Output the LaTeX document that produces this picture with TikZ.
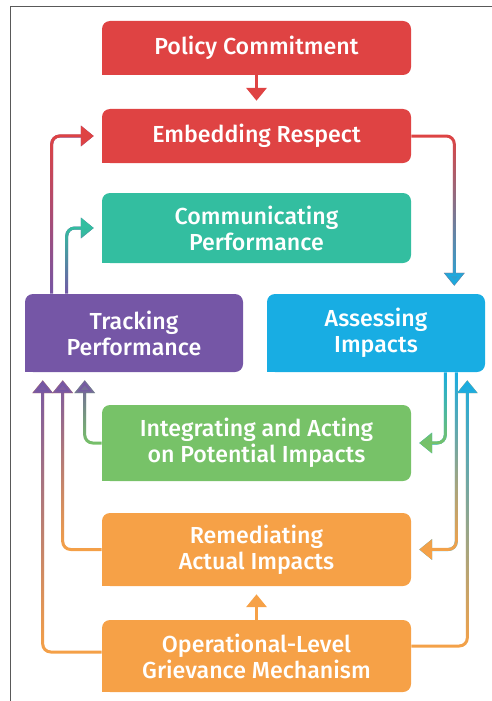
\documentclass[tikz,border=0pt]{standalone}
\usepackage{fontspec}
\setmainfont{Fira Sans}[UprightFont={* Medium}]
\usetikzlibrary{arrows.meta,fadings}
\definecolor{ecRed}{HTML}{DF4343}
\definecolor{ecTeal}{HTML}{33BEA0}
\definecolor{ecPurple}{HTML}{7556A6}
\definecolor{ecBlue}{HTML}{18ADE3}
\definecolor{ecGreen}{HTML}{77C268}
\definecolor{ecOrange}{HTML}{F6A147}
\begin{document}
\begin{tikzpicture}[
  box/.style={fill=#1, rounded corners=0.2cm, align=center, text=white, inner sep=2pt,
    font=\fontsize{16.5}{18.5}\selectfont},
  wide/.style={minimum width=7.725cm},
  half/.style={minimum width=5.45cm},
  arr/.style={-{Triangle[width=0.5cm,length=0.32cm]}, line width=0.075cm,
    rounded corners=0.2cm, shorten >=0.2cm},
  fadeup/.style 2 args={draw=#1, postaction={draw=#2, path fading=south}},
  fadedown/.style 2 args={draw=#1, postaction={draw=#2, path fading=north}}
]
\useasboundingbox (0,0) rectangle (12.3,-17.525);
\draw[gray!70!black, line width=0.025cm] (0.25,-17.525) -- (0.25,-0.175) -- (12.3,-0.175);

\node[box=ecRed,wide,minimum height=1.35cm] (policy) at (6.4125,-1.2) {Policy Commitment};
\node[box=ecRed,wide,minimum height=1.35cm] (embed) at (6.4125,-3.4) {Embedding Respect};
\node[box=ecTeal,wide,minimum height=1.75cm] (comm) at (6.4125,-5.7) {Communicating\\Performance};
\node[box=ecPurple,half,minimum height=1.95cm] (track) at (3.35,-8.325) {Tracking\\Performance};
\node[box=ecBlue,half,minimum height=1.95cm] (assess) at (9.4,-8.325) {Assessing\\Impacts};
\node[box=ecGreen,wide,minimum height=1.9cm] (integ) at (6.4125,-11.075) {Integrating and Acting\\on Potential Impacts};
\node[box=ecOrange,wide,minimum height=1.825cm] (remed) at (6.4125,-13.7375) {Remediating\\Actual Impacts};
\node[box=ecOrange,wide,minimum height=1.8cm] (oper) at (6.4125,-16.4) {Operational-Level\\Grievance Mechanism};
% square off the lower left corners
\foreach \n/\c in {policy/ecRed,embed/ecRed,comm/ecTeal,track/ecPurple,assess/ecBlue,
    integ/ecGreen,remed/ecOrange,oper/ecOrange}
  \fill[\c] (\n.south west) rectangle ++(0.3,0.3);

\draw[arr, ecRed] (policy) -- (embed);
\draw[arr, ecOrange] (oper) -- (remed);
\draw[arr, fadeup={ecPurple}{ecRed}] ([xshift=0.675cm]track.north west) |- (embed.west);
\draw[arr, fadeup={ecPurple}{ecTeal}] ([xshift=1.05cm]track.north west) |- (comm.west);
\draw[arr, fadedown={ecRed}{ecBlue}] (embed.east) -| ([xshift=-0.775cm]assess.north east);
\draw[arr, fadedown={ecBlue}{ecGreen}] ([xshift=-1cm]assess.south east) |- (integ.east);
\draw[arr, fadedown={ecBlue}{ecOrange}] ([xshift=-0.725cm]assess.south east) |- (remed.east);
\draw[arr, fadeup={ecOrange}{ecBlue}] ([yshift=0.25cm]oper.east) -| ([xshift=-0.45cm]assess.south east);
\draw[arr, fadeup={ecGreen}{ecPurple}] (integ.west) -| ([xshift=1.5cm]track.south west);
\draw[arr, fadeup={ecOrange}{ecPurple}] (remed.west) -| ([xshift=0.95cm]track.south west);
\draw[arr, fadeup={ecOrange}{ecPurple}] ([yshift=0.1cm]oper.west) -| ([xshift=0.45cm]track.south west);
\end{tikzpicture}
\end{document}
